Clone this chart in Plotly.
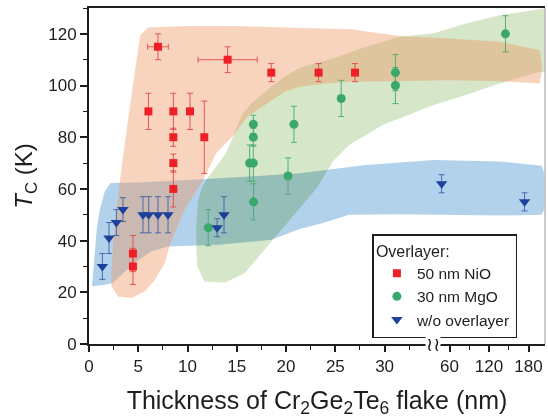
import plotly.graph_objects as go

# ---- measured Curie temperatures (thickness in nm, Tc in K) ----
nio_t = [4.46, 4.46, 6.03, 7.0, 8.56, 8.56, 8.56, 8.56, 10.25, 11.7, 14.07, 18.5, 23.3, 27.0]
nio_tc = [35, 30, 90, 115, 90, 80, 70, 60, 90, 80, 110, 105, 105, 105]
nio_dtc = [7, 7, 7, 5, 7, 3.5, 3.5, 7, 7, 14, 5, 3.5, 3.5, 3.5]
nio_dt = [0, 0, 0, 1.05, 0, 0, 0, 0, 0, 0, 3.0, 0, 0, 0]

mgo_t = [12.1, 16.3, 16.68, 16.68, 16.68, 16.7, 20.2, 20.8, 25.6, 31.1, 31.1, 145]
mgo_tc = [45, 70, 70, 85, 80, 55, 65, 85, 95, 105, 100, 120]
mgo_dtc = [7, 7, 7, 3.5, 3.5, 7, 7, 7, 7, 7, 7, 7]

bare_t = [1.36, 2.03, 2.78, 3.45, 5.48, 6.06, 7.0, 8.02, 13.0, 13.7, 48, 174]
bare_tc = [30, 41, 47, 52, 50, 50, 50, 50, 45, 50, 62, 55]
bare_dtc = [5, 6, 5, 4.6, 7, 7, 7, 7, 3.5, 7, 3.5, 3.5]

# ---- shaded guide envelopes (thickness nm, Tc K) ----
nio_band_t = [5.2, 6.0, 10, 15, 21.4, 26.5, 31.5, 60, 136, 197, 201, 197, 136, 60, 31.5, 26.5,
              23.9, 21.4, 19.85, 17.8, 16.1, 14.6, 12.9, 12.25, 11.4, 9.7, 8.5, 8.2, 7.7, 6.67,
              5.65, 4.3, 2.94, 2.27, 2.3, 2.43, 2.78, 3.1, 3.45, 3.96, 4.46, 4.97]
nio_band_tc = [119.6, 122.5, 123, 123, 122.3, 121.8, 119.2, 118.2, 116.9, 113.7, 107, 100.8, 101.7,
               102, 101.7, 101.5, 100.8, 99.5, 97.6, 92.5, 88, 80.5, 73.8, 68.6, 62.2, 51.9, 41.6,
               38.4, 31.3, 24.8, 20.3, 17.8, 18.4, 22.3, 30, 39, 51.9, 62.2, 72.5, 86.7, 100.8, 113.7]

mgo_band_t = [10.9, 11.0, 11.7, 13.8, 15.8, 17.8, 19.2, 21.4, 23.1, 24.75, 26.4, 29.8, 35, 85, 136,
              197, 206, 206, 197, 136, 85, 35, 31.5, 28.1, 24.75, 21.4, 19.85, 18.5, 16.5, 15.6,
              14.7, 13.9, 12.9, 12.0, 11.4, 11.06, 10.9]
mgo_band_tc = [36, 30, 24.2, 23.8, 27.4, 36.4, 42.9, 52.5, 60.3, 70.6, 77, 84.7, 92.5, 96.3, 100.8,
               105.3, 105, 130, 129.5, 127.2, 124, 120.2, 118.9, 115, 110.5, 106.9, 103.4, 99.5,
               93.1, 89.2, 81, 73.8, 68.6, 64, 60, 55, 46.8]

bare_band_t = [0.3, 0.55, 0.8, 1.1, 1.6, 2.2, 5, 10, 15, 21.4, 28.1, 35, 136, 200, 204, 204, 200,
               136, 35, 31.5, 26.4, 23.9, 21.4, 18.5, 13.1, 8.0, 6.3, 4.6, 2.4, 1.6]
bare_band_tc = [22.3, 35, 45, 52, 59, 62.3, 62.5, 63.5, 64.5, 66.1, 69.3, 71.2, 70.6, 69, 66, 52,
                50, 49.7, 50, 50.2, 50, 47, 44.5, 40.3, 38.4, 37.7, 35.8, 31.3, 23.6, 22.9]

# ---- axis ticks ----
tick_nm = [0, 5, 10, 15, 20, 25, 30, 60, 120, 180]
minor_nm = [2.5, 7.5, 12.5, 17.5, 22.5, 27.5, 32.5, 90, 150]
y_ticks = [0, 20, 40, 60, 80, 100, 120]

# Broken thickness axis: linear up to 35 nm, compressed scale beyond.
BREAK_NM = 35.0
U60 = 36.59
SCALE_HI = 0.0668
U_BREAK = 34.87
U_MAX = 46.28


def axis_pos(t):
    return t if t <= BREAK_NM else U60 + (t - 60.0) * SCALE_HI


def to_axis(values):
    return [axis_pos(v) for v in values]


FONT = "Liberation Sans, Arial, sans-serif"
INK = "#1e1e1e"

fig = go.Figure()

# blue and green envelopes are opaque (multiplied in the page), NiO envelope is translucent on top
for bt, btc, col in [(bare_band_t, bare_band_tc, "rgb(178,210,236)"),
                     (mgo_band_t, mgo_band_tc, "rgb(213,231,200)"),
                     (nio_band_t, nio_band_tc, "rgba(237,147,92,0.4)")]:
    fig.add_trace(go.Scatter(x=to_axis(bt), y=btc, mode="lines", fill="toself",
                             fillcolor=col, line=dict(width=0), hoverinfo="skip",
                             showlegend=False))

fig.add_trace(go.Scatter(
    x=to_axis(nio_t), y=nio_tc, mode="markers", name="50 nm NiO",
    marker=dict(symbol="square", size=8, color="rgb(236,32,38)"),
    error_y=dict(type="data", array=nio_dtc, color="rgba(226,70,70,0.9)", thickness=1, width=3),
    error_x=dict(type="data", array=nio_dt, color="rgba(226,70,70,0.9)", thickness=1, width=3),
))
fig.add_trace(go.Scatter(
    x=to_axis(mgo_t), y=mgo_tc, mode="markers", name="30 nm MgO",
    marker=dict(symbol="circle", size=9, color="rgb(58,168,108)"),
    error_y=dict(type="data", array=mgo_dtc, color="rgba(70,170,115,0.9)", thickness=1, width=3),
))
fig.add_trace(go.Scatter(
    x=to_axis(bare_t), y=bare_tc, mode="markers", name="w/o overlayer",
    marker=dict(symbol="triangle-down", size=10, color="rgb(28,64,156)"),
    error_y=dict(type="data", array=bare_dtc, color="rgba(60,95,170,0.9)", thickness=1, width=3),
))

# axis break mark
fig.add_annotation(x=U_BREAK, y=0, xref="x", yref="y", text="≀≀", showarrow=False,
                   font=dict(family="DejaVu Sans", size=19, color=INK), bgcolor="white",
                   borderpad=0, xanchor="center", yanchor="middle")

# right frame edge
fig.add_shape(type="line", xref="paper", yref="paper", x0=1, x1=1, y0=0, y1=1,
              line=dict(color="#a8a8a8", width=1.2))

fig.update_layout(
    width=548, height=418,
    margin=dict(l=89, r=3, t=8, b=74),
    paper_bgcolor="white", plot_bgcolor="white",
    font=dict(family=FONT, size=17, color=INK),
    xaxis=dict(
        range=[0, U_MAX], tickmode="array", tickvals=to_axis(tick_nm),
        ticktext=[str(v) for v in tick_nm], ticks="outside", ticklen=6, tickwidth=1.6,
        tickcolor=INK, showline=True, linewidth=2, linecolor=INK, mirror=True,
        showgrid=False, zeroline=False, tickfont=dict(size=17),
        minor=dict(tickvals=to_axis(minor_nm), ticks="outside", ticklen=3.5,
                   tickwidth=1.4, tickcolor=INK, showgrid=False),
        title=dict(text="Thickness of Cr<sub>2</sub>Ge<sub>2</sub>Te<sub>6</sub> flake (nm)",
                   font=dict(size=25), standoff=16),
    ),
    yaxis=dict(
        range=[0, 130], tickmode="array", tickvals=y_ticks, ticks="outside", ticklen=7,
        tickwidth=1.6, tickcolor=INK, showline=True, linewidth=2, linecolor=INK,
        mirror=False, showgrid=False, zeroline=False, tickfont=dict(size=17),
        minor=dict(dtick=10, ticks="outside", ticklen=4, tickwidth=1.4, tickcolor=INK,
                   showgrid=False),
        title=dict(text="<i>T</i><sub>C</sub> (K)", font=dict(size=24), standoff=9),
    ),
    legend=dict(
        x=0.6215, y=0.3265, xanchor="left", yanchor="top",
        bgcolor="white", bordercolor=INK, borderwidth=1.5,
        font=dict(size=15.5), tracegroupgap=0, itemsizing="trace", indentation=3,
        title=dict(text="Overlayer:", font=dict(size=16)),
    ),
)

fig.write_html("out.html", post_script=(
    "document.querySelectorAll('path.js-fill').forEach(function(p){"
    "var o=parseFloat(p.style.fillOpacity);"
    "if(isNaN(o)||o>=1){p.style.mixBlendMode='multiply';}});"
))
